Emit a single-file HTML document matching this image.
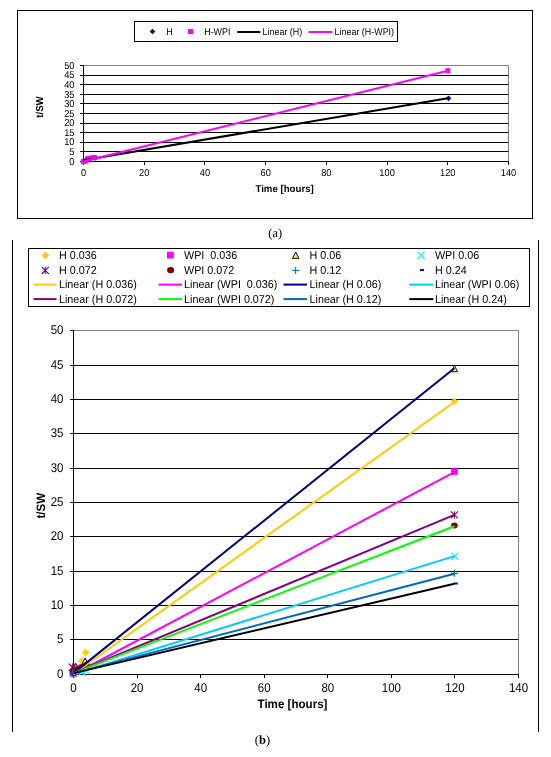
<!DOCTYPE html>
<html><head><meta charset="utf-8"><title>Charts</title>
<style>
html,body{margin:0;padding:0;background:#fff;}
body{width:551px;height:757px;overflow:hidden;font-family:"Liberation Sans",sans-serif;}
svg{display:block;will-change:transform;}
text{text-rendering:geometricPrecision;}
</style></head><body>
<svg width="551" height="757" viewBox="0 0 551 757">
<rect width="551" height="757" fill="#fff"/>
<rect x="17.5" y="10.5" width="515" height="208" fill="#fff" stroke="#000" stroke-width="1"/>
<path d="M83.5 65.5H508.5V161.5" fill="none" stroke="#808080" stroke-width="1"/>
<line x1="83.5" x2="508.5" y1="151.5" y2="151.5" stroke="#000" stroke-width="1"/>
<line x1="83.5" x2="508.5" y1="142.5" y2="142.5" stroke="#000" stroke-width="1"/>
<line x1="83.5" x2="508.5" y1="132.5" y2="132.5" stroke="#000" stroke-width="1"/>
<line x1="83.5" x2="508.5" y1="123.5" y2="123.5" stroke="#000" stroke-width="1"/>
<line x1="83.5" x2="508.5" y1="113.5" y2="113.5" stroke="#000" stroke-width="1"/>
<line x1="83.5" x2="508.5" y1="103.5" y2="103.5" stroke="#000" stroke-width="1"/>
<line x1="83.5" x2="508.5" y1="94.5" y2="94.5" stroke="#000" stroke-width="1"/>
<line x1="83.5" x2="508.5" y1="84.5" y2="84.5" stroke="#000" stroke-width="1"/>
<line x1="83.5" x2="508.5" y1="75.5" y2="75.5" stroke="#000" stroke-width="1"/>
<line x1="83.5" x2="83.5" y1="65.5" y2="161.5" stroke="#000" stroke-width="1"/>
<line x1="83.5" x2="508.5" y1="161.5" y2="161.5" stroke="#000" stroke-width="1"/>
<line x1="80.0" x2="83.5" y1="161.5" y2="161.5" stroke="#000" stroke-width="1"/>
<text transform="translate(74.50,164.90) scale(0.93,1)" font-size="10" text-anchor="end" font-family="Liberation Sans, sans-serif">0</text>
<line x1="80.0" x2="83.5" y1="151.5" y2="151.5" stroke="#000" stroke-width="1"/>
<text transform="translate(74.50,154.90) scale(0.93,1)" font-size="10" text-anchor="end" font-family="Liberation Sans, sans-serif">5</text>
<line x1="80.0" x2="83.5" y1="142.5" y2="142.5" stroke="#000" stroke-width="1"/>
<text transform="translate(74.50,144.90) scale(0.93,1)" font-size="10" text-anchor="end" font-family="Liberation Sans, sans-serif">10</text>
<line x1="80.0" x2="83.5" y1="132.5" y2="132.5" stroke="#000" stroke-width="1"/>
<text transform="translate(74.50,135.90) scale(0.93,1)" font-size="10" text-anchor="end" font-family="Liberation Sans, sans-serif">15</text>
<line x1="80.0" x2="83.5" y1="123.5" y2="123.5" stroke="#000" stroke-width="1"/>
<text transform="translate(74.50,125.90) scale(0.93,1)" font-size="10" text-anchor="end" font-family="Liberation Sans, sans-serif">20</text>
<line x1="80.0" x2="83.5" y1="113.5" y2="113.5" stroke="#000" stroke-width="1"/>
<text transform="translate(74.50,116.90) scale(0.93,1)" font-size="10" text-anchor="end" font-family="Liberation Sans, sans-serif">25</text>
<line x1="80.0" x2="83.5" y1="103.5" y2="103.5" stroke="#000" stroke-width="1"/>
<text transform="translate(74.50,106.90) scale(0.93,1)" font-size="10" text-anchor="end" font-family="Liberation Sans, sans-serif">30</text>
<line x1="80.0" x2="83.5" y1="94.5" y2="94.5" stroke="#000" stroke-width="1"/>
<text transform="translate(74.50,97.90) scale(0.93,1)" font-size="10" text-anchor="end" font-family="Liberation Sans, sans-serif">35</text>
<line x1="80.0" x2="83.5" y1="84.5" y2="84.5" stroke="#000" stroke-width="1"/>
<text transform="translate(74.50,87.90) scale(0.93,1)" font-size="10" text-anchor="end" font-family="Liberation Sans, sans-serif">40</text>
<line x1="80.0" x2="83.5" y1="75.5" y2="75.5" stroke="#000" stroke-width="1"/>
<text transform="translate(74.50,77.90) scale(0.93,1)" font-size="10" text-anchor="end" font-family="Liberation Sans, sans-serif">45</text>
<line x1="80.0" x2="83.5" y1="65.5" y2="65.5" stroke="#000" stroke-width="1"/>
<text transform="translate(74.50,68.90) scale(0.93,1)" font-size="10" text-anchor="end" font-family="Liberation Sans, sans-serif">50</text>
<line x1="83.5" x2="83.5" y1="161.5" y2="165.0" stroke="#000" stroke-width="1"/>
<text transform="translate(83.50,175.50) scale(0.93,1)" font-size="10" text-anchor="middle" font-family="Liberation Sans, sans-serif">0</text>
<line x1="144.5" x2="144.5" y1="161.5" y2="165.0" stroke="#000" stroke-width="1"/>
<text transform="translate(144.21,175.50) scale(0.93,1)" font-size="10" text-anchor="middle" font-family="Liberation Sans, sans-serif">20</text>
<line x1="204.5" x2="204.5" y1="161.5" y2="165.0" stroke="#000" stroke-width="1"/>
<text transform="translate(204.93,175.50) scale(0.93,1)" font-size="10" text-anchor="middle" font-family="Liberation Sans, sans-serif">40</text>
<line x1="265.5" x2="265.5" y1="161.5" y2="165.0" stroke="#000" stroke-width="1"/>
<text transform="translate(265.64,175.50) scale(0.93,1)" font-size="10" text-anchor="middle" font-family="Liberation Sans, sans-serif">60</text>
<line x1="326.5" x2="326.5" y1="161.5" y2="165.0" stroke="#000" stroke-width="1"/>
<text transform="translate(326.36,175.50) scale(0.93,1)" font-size="10" text-anchor="middle" font-family="Liberation Sans, sans-serif">80</text>
<line x1="387.5" x2="387.5" y1="161.5" y2="165.0" stroke="#000" stroke-width="1"/>
<text transform="translate(387.07,175.50) scale(0.93,1)" font-size="10" text-anchor="middle" font-family="Liberation Sans, sans-serif">100</text>
<line x1="447.5" x2="447.5" y1="161.5" y2="165.0" stroke="#000" stroke-width="1"/>
<text transform="translate(447.79,175.50) scale(0.93,1)" font-size="10" text-anchor="middle" font-family="Liberation Sans, sans-serif">120</text>
<line x1="508.5" x2="508.5" y1="161.5" y2="165.0" stroke="#000" stroke-width="1"/>
<text transform="translate(508.50,175.50) scale(0.93,1)" font-size="10" text-anchor="middle" font-family="Liberation Sans, sans-serif">140</text>
<text transform="translate(284.60,191.80) scale(0.965,1)" font-size="10" text-anchor="middle" font-weight="bold" font-family="Liberation Sans, sans-serif">Time [hours]</text>
<text transform="translate(42.80,107.00) rotate(-90) scale(0.965,1)" font-size="10" text-anchor="middle" font-weight="bold" font-family="Liberation Sans, sans-serif">t/SW</text>
<path d="M83.50 158.12L86.30 160.92L83.50 163.72L80.70 160.92Z" fill="#000080" />
<path d="M86.54 156.78L89.34 159.58L86.54 162.38L83.74 159.58Z" fill="#000080" />
<path d="M89.57 156.20L92.37 159.00L89.57 161.80L86.77 159.00Z" fill="#000080" />
<path d="M95.64 155.05L98.44 157.85L95.64 160.65L92.84 157.85Z" fill="#000080" />
<rect x="81.00" y="159.00" width="5.0" height="5.0" fill="#ff00ff"/>
<rect x="83.12" y="158.62" width="5.0" height="5.0" fill="#ff00ff"/>
<rect x="85.55" y="155.93" width="5.0" height="5.0" fill="#ff00ff"/>
<rect x="88.59" y="155.45" width="5.0" height="5.0" fill="#ff00ff"/>
<rect x="91.62" y="154.87" width="5.0" height="5.0" fill="#ff00ff"/>
<line x1="83.50" y1="160.16" x2="447.79" y2="98.33" stroke="#000" stroke-width="2"/>
<line x1="83.50" y1="161.50" x2="447.79" y2="70.68" stroke="#ff00ff" stroke-width="2"/>
<path d="M448.54 95.53L451.34 98.33L448.54 101.13L445.74 98.33Z" fill="#000080" />
<rect x="445.29" y="68.18" width="5.0" height="5.0" fill="#ff00ff"/>
<rect x="134.5" y="21.5" width="263" height="20" fill="#fff" stroke="#000" stroke-width="1"/>
<path d="M152.50 28.70L155.30 31.50L152.50 34.30L149.70 31.50Z" fill="#000080" />
<text transform="translate(166.30,35.00) scale(0.92,1)" font-size="9.7" text-anchor="start" font-family="Liberation Sans, sans-serif">H</text>
<rect x="188.00" y="29.00" width="5.0" height="5.0" fill="#ff00ff"/>
<text transform="translate(204.20,35.00) scale(0.92,1)" font-size="9.7" text-anchor="start" font-family="Liberation Sans, sans-serif">H-WPI</text>
<line x1="237.3" x2="260.3" y1="32" y2="32" stroke="#000" stroke-width="2"/>
<text transform="translate(262.60,35.00) scale(0.92,1)" font-size="9.7" text-anchor="start" font-family="Liberation Sans, sans-serif">Linear (H)</text>
<line x1="308.7" x2="332.3" y1="32" y2="32" stroke="#ff00ff" stroke-width="2"/>
<text transform="translate(334.60,35.00) scale(0.92,1)" font-size="9.7" text-anchor="start" font-family="Liberation Sans, sans-serif">Linear (H-WPI)</text>
<text x="275.2" y="237" font-size="12.3" text-anchor="middle" font-family="Liberation Serif, serif">(a)</text>
<line x1="12.5" x2="12.5" y1="240" y2="732" stroke="#000" stroke-width="1"/>
<line x1="538.5" x2="538.5" y1="240" y2="732" stroke="#000" stroke-width="1"/>
<path d="M73.5 330.5H518.5V674.5" fill="none" stroke="#808080" stroke-width="1"/>
<line x1="73.5" x2="518.5" y1="639.5" y2="639.5" stroke="#000" stroke-width="1"/>
<line x1="73.5" x2="518.5" y1="605.5" y2="605.5" stroke="#000" stroke-width="1"/>
<line x1="73.5" x2="518.5" y1="571.5" y2="571.5" stroke="#000" stroke-width="1"/>
<line x1="73.5" x2="518.5" y1="536.5" y2="536.5" stroke="#000" stroke-width="1"/>
<line x1="73.5" x2="518.5" y1="502.5" y2="502.5" stroke="#000" stroke-width="1"/>
<line x1="73.5" x2="518.5" y1="468.5" y2="468.5" stroke="#000" stroke-width="1"/>
<line x1="73.5" x2="518.5" y1="433.5" y2="433.5" stroke="#000" stroke-width="1"/>
<line x1="73.5" x2="518.5" y1="399.5" y2="399.5" stroke="#000" stroke-width="1"/>
<line x1="73.5" x2="518.5" y1="365.5" y2="365.5" stroke="#000" stroke-width="1"/>
<line x1="73.5" x2="73.5" y1="330.5" y2="674.5" stroke="#000" stroke-width="1"/>
<line x1="73.5" x2="518.5" y1="674.5" y2="674.5" stroke="#000" stroke-width="1"/>
<line x1="70.0" x2="73.5" y1="674.5" y2="674.5" stroke="#000" stroke-width="1"/>
<text transform="translate(63.50,678.10) scale(0.905,1)" font-size="12.7" text-anchor="end" font-family="Liberation Sans, sans-serif">0</text>
<line x1="70.0" x2="73.5" y1="639.5" y2="639.5" stroke="#000" stroke-width="1"/>
<text transform="translate(63.50,643.10) scale(0.905,1)" font-size="12.7" text-anchor="end" font-family="Liberation Sans, sans-serif">5</text>
<line x1="70.0" x2="73.5" y1="605.5" y2="605.5" stroke="#000" stroke-width="1"/>
<text transform="translate(63.50,609.10) scale(0.905,1)" font-size="12.7" text-anchor="end" font-family="Liberation Sans, sans-serif">10</text>
<line x1="70.0" x2="73.5" y1="571.5" y2="571.5" stroke="#000" stroke-width="1"/>
<text transform="translate(63.50,575.10) scale(0.905,1)" font-size="12.7" text-anchor="end" font-family="Liberation Sans, sans-serif">15</text>
<line x1="70.0" x2="73.5" y1="536.5" y2="536.5" stroke="#000" stroke-width="1"/>
<text transform="translate(63.50,540.10) scale(0.905,1)" font-size="12.7" text-anchor="end" font-family="Liberation Sans, sans-serif">20</text>
<line x1="70.0" x2="73.5" y1="502.5" y2="502.5" stroke="#000" stroke-width="1"/>
<text transform="translate(63.50,506.10) scale(0.905,1)" font-size="12.7" text-anchor="end" font-family="Liberation Sans, sans-serif">25</text>
<line x1="70.0" x2="73.5" y1="468.5" y2="468.5" stroke="#000" stroke-width="1"/>
<text transform="translate(63.50,472.10) scale(0.905,1)" font-size="12.7" text-anchor="end" font-family="Liberation Sans, sans-serif">30</text>
<line x1="70.0" x2="73.5" y1="433.5" y2="433.5" stroke="#000" stroke-width="1"/>
<text transform="translate(63.50,437.10) scale(0.905,1)" font-size="12.7" text-anchor="end" font-family="Liberation Sans, sans-serif">35</text>
<line x1="70.0" x2="73.5" y1="399.5" y2="399.5" stroke="#000" stroke-width="1"/>
<text transform="translate(63.50,403.10) scale(0.905,1)" font-size="12.7" text-anchor="end" font-family="Liberation Sans, sans-serif">40</text>
<line x1="70.0" x2="73.5" y1="365.5" y2="365.5" stroke="#000" stroke-width="1"/>
<text transform="translate(63.50,369.10) scale(0.905,1)" font-size="12.7" text-anchor="end" font-family="Liberation Sans, sans-serif">45</text>
<line x1="70.0" x2="73.5" y1="330.5" y2="330.5" stroke="#000" stroke-width="1"/>
<text transform="translate(63.50,334.10) scale(0.905,1)" font-size="12.7" text-anchor="end" font-family="Liberation Sans, sans-serif">50</text>
<line x1="73.5" x2="73.5" y1="674.5" y2="678.0" stroke="#000" stroke-width="1"/>
<text transform="translate(73.50,691.60) scale(0.905,1)" font-size="12.7" text-anchor="middle" font-family="Liberation Sans, sans-serif">0</text>
<line x1="137.5" x2="137.5" y1="674.5" y2="678.0" stroke="#000" stroke-width="1"/>
<text transform="translate(137.07,691.60) scale(0.905,1)" font-size="12.7" text-anchor="middle" font-family="Liberation Sans, sans-serif">20</text>
<line x1="200.5" x2="200.5" y1="674.5" y2="678.0" stroke="#000" stroke-width="1"/>
<text transform="translate(200.64,691.60) scale(0.905,1)" font-size="12.7" text-anchor="middle" font-family="Liberation Sans, sans-serif">40</text>
<line x1="264.5" x2="264.5" y1="674.5" y2="678.0" stroke="#000" stroke-width="1"/>
<text transform="translate(264.21,691.60) scale(0.905,1)" font-size="12.7" text-anchor="middle" font-family="Liberation Sans, sans-serif">60</text>
<line x1="327.5" x2="327.5" y1="674.5" y2="678.0" stroke="#000" stroke-width="1"/>
<text transform="translate(327.79,691.60) scale(0.905,1)" font-size="12.7" text-anchor="middle" font-family="Liberation Sans, sans-serif">80</text>
<line x1="391.5" x2="391.5" y1="674.5" y2="678.0" stroke="#000" stroke-width="1"/>
<text transform="translate(391.36,691.60) scale(0.905,1)" font-size="12.7" text-anchor="middle" font-family="Liberation Sans, sans-serif">100</text>
<line x1="454.5" x2="454.5" y1="674.5" y2="678.0" stroke="#000" stroke-width="1"/>
<text transform="translate(454.93,691.60) scale(0.905,1)" font-size="12.7" text-anchor="middle" font-family="Liberation Sans, sans-serif">120</text>
<line x1="518.5" x2="518.5" y1="674.5" y2="678.0" stroke="#000" stroke-width="1"/>
<text transform="translate(518.50,691.60) scale(0.905,1)" font-size="12.7" text-anchor="middle" font-family="Liberation Sans, sans-serif">140</text>
<text transform="translate(292.50,708.00) scale(0.95,1)" font-size="12.2" text-anchor="middle" font-weight="bold" font-family="Liberation Sans, sans-serif">Time [hours]</text>
<text transform="translate(45.30,505.70) rotate(-90) scale(0.95,1)" font-size="12.2" text-anchor="middle" font-weight="bold" font-family="Liberation Sans, sans-serif">t/SW</text>
<path d="M73.50 668.80L77.20 672.50L73.50 676.20L69.80 672.50Z" fill="#ffcc00" />
<path d="M76.70 664.80L80.40 668.50L76.70 672.20L73.00 668.50Z" fill="#ffcc00" />
<path d="M81.80 657.30L85.50 661.00L81.80 664.70L78.10 661.00Z" fill="#ffcc00" />
<path d="M85.60 648.80L89.30 652.50L85.60 656.20L81.90 652.50Z" fill="#ffcc00" />
<path d="M454.40 397.66L458.10 401.36L454.40 405.06L450.70 401.36Z" fill="#ffcc00" />
<rect x="69.70" y="670.20" width="6.6" height="6.6" fill="#ff00ff"/>
<rect x="73.20" y="668.20" width="6.6" height="6.6" fill="#ff00ff"/>
<rect x="76.70" y="666.70" width="6.6" height="6.6" fill="#ff00ff"/>
<rect x="451.10" y="468.24" width="6.6" height="6.6" fill="#ff00ff"/>
<path d="M73.50 667.90L76.60 674.10L70.40 674.10Z" fill="#ffff00" stroke="#000080" stroke-width="1"/>
<path d="M75.60 663.10L78.70 669.30L72.50 669.30Z" fill="#ffff00" stroke="#000080" stroke-width="1"/>
<path d="M85.10 657.90L88.20 664.10L82.00 664.10Z" fill="#ffff00" stroke="#000080" stroke-width="1"/>
<path d="M454.40 365.54L457.50 371.74L451.30 371.74Z" fill="#ffff00" stroke="#000080" stroke-width="1"/>
<path d="M78.60 668.40L85.80 675.60M78.60 675.60L85.80 668.40" stroke="#00ffff" stroke-width="1.2" fill="none"/>
<path d="M82.60 667.10L89.80 674.30M82.60 674.30L89.80 667.10" stroke="#00ffff" stroke-width="1.2" fill="none"/>
<path d="M451.10 552.56L458.30 559.76M451.10 559.76L458.30 552.56" stroke="#00ffff" stroke-width="1.2" fill="none"/>
<path d="M68.70 663.60L75.90 670.80M68.70 670.80L75.90 663.60M72.30 663.60V670.80" stroke="#800080" stroke-width="1.1" fill="none"/>
<path d="M71.40 665.90L78.60 673.10M71.40 673.10L78.60 665.90M75.00 665.90V673.10" stroke="#800080" stroke-width="1.1" fill="none"/>
<path d="M75.40 664.40L82.60 671.60M75.40 671.60L82.60 664.40M79.00 664.40V671.60" stroke="#800080" stroke-width="1.1" fill="none"/>
<path d="M450.80 511.28L458.00 518.48M450.80 518.48L458.00 511.28M454.40 511.28V518.48" stroke="#800080" stroke-width="1.1" fill="none"/>
<ellipse cx="73.00" cy="671.50" rx="3.3" ry="3.0" fill="#800000"/>
<ellipse cx="77.00" cy="669.50" rx="3.3" ry="3.0" fill="#800000"/>
<ellipse cx="82.00" cy="667.00" rx="3.3" ry="3.0" fill="#800000"/>
<ellipse cx="87.00" cy="664.80" rx="3.3" ry="3.0" fill="#800000"/>
<ellipse cx="454.40" cy="525.55" rx="3.3" ry="3.0" fill="#800000"/>
<path d="M69.00 673.00H76.00M72.50 669.50V676.50" stroke="#008080" stroke-width="1.1" fill="none"/>
<path d="M72.50 673.50H79.50M76.00 670.00V677.00" stroke="#008080" stroke-width="1.1" fill="none"/>
<path d="M450.90 573.36H457.90M454.40 569.86V576.86" stroke="#008080" stroke-width="1.1" fill="none"/>
<rect x="72.10" y="673.50" width="3.8" height="2" fill="#0000ff"/>
<rect x="454.00" y="582.48" width="3.8" height="2" fill="#0000ff"/>
<line x1="73.50" y1="673.95" x2="454.40" y2="402.05" stroke="#ffcc00" stroke-width="2"/>
<line x1="73.50" y1="674.50" x2="454.40" y2="472.02" stroke="#ff00ff" stroke-width="2"/>
<line x1="73.50" y1="673.12" x2="454.40" y2="368.34" stroke="#000080" stroke-width="2"/>
<line x1="73.50" y1="674.16" x2="454.40" y2="556.16" stroke="#00ccff" stroke-width="2"/>
<line x1="73.50" y1="673.12" x2="454.40" y2="514.88" stroke="#800080" stroke-width="2"/>
<line x1="73.50" y1="673.12" x2="454.40" y2="526.24" stroke="#00ff00" stroke-width="2"/>
<line x1="73.50" y1="673.12" x2="454.40" y2="573.71" stroke="#0066cc" stroke-width="2"/>
<line x1="73.50" y1="673.12" x2="454.40" y2="583.68" stroke="#000000" stroke-width="2"/>
<rect x="28.5" y="248.5" width="501" height="58" fill="#fff" stroke="#000" stroke-width="1"/>
<text transform="translate(58.90,258.80) scale(0.946,1)" font-size="11.4" text-anchor="start" font-family="Liberation Sans, sans-serif">H 0.036</text>
<text transform="translate(184.00,258.80) scale(0.946,1)" font-size="11.4" text-anchor="start" font-family="Liberation Sans, sans-serif">WPI &#160;0.036</text>
<text transform="translate(309.50,258.80) scale(0.946,1)" font-size="11.4" text-anchor="start" font-family="Liberation Sans, sans-serif">H 0.06</text>
<text transform="translate(434.90,258.80) scale(0.946,1)" font-size="11.4" text-anchor="start" font-family="Liberation Sans, sans-serif">WPI 0.06</text>
<text transform="translate(58.90,273.80) scale(0.946,1)" font-size="11.4" text-anchor="start" font-family="Liberation Sans, sans-serif">H 0.072</text>
<text transform="translate(184.00,273.80) scale(0.946,1)" font-size="11.4" text-anchor="start" font-family="Liberation Sans, sans-serif">WPI 0.072</text>
<text transform="translate(309.50,273.80) scale(0.946,1)" font-size="11.4" text-anchor="start" font-family="Liberation Sans, sans-serif">H 0.12</text>
<text transform="translate(434.90,273.80) scale(0.946,1)" font-size="11.4" text-anchor="start" font-family="Liberation Sans, sans-serif">H 0.24</text>
<text transform="translate(58.90,288.30) scale(0.946,1)" font-size="11.4" text-anchor="start" font-family="Liberation Sans, sans-serif">Linear (H 0.036)</text>
<line x1="33.5" x2="56.5" y1="284.60" y2="284.60" stroke="#ffcc00" stroke-width="2"/>
<text transform="translate(184.00,288.30) scale(0.946,1)" font-size="11.4" text-anchor="start" font-family="Liberation Sans, sans-serif">Linear (WPI &#160;0.036)</text>
<line x1="158.5" x2="182" y1="284.60" y2="284.60" stroke="#ff00ff" stroke-width="2"/>
<text transform="translate(309.50,288.30) scale(0.946,1)" font-size="11.4" text-anchor="start" font-family="Liberation Sans, sans-serif">Linear (H 0.06)</text>
<line x1="283.5" x2="307" y1="284.60" y2="284.60" stroke="#000080" stroke-width="2"/>
<text transform="translate(434.90,288.30) scale(0.946,1)" font-size="11.4" text-anchor="start" font-family="Liberation Sans, sans-serif">Linear (WPI 0.06)</text>
<line x1="409.3" x2="433.3" y1="284.60" y2="284.60" stroke="#00ccff" stroke-width="2"/>
<text transform="translate(58.90,302.80) scale(0.946,1)" font-size="11.4" text-anchor="start" font-family="Liberation Sans, sans-serif">Linear (H 0.072)</text>
<line x1="33.5" x2="56.5" y1="299.10" y2="299.10" stroke="#800080" stroke-width="2"/>
<text transform="translate(184.00,302.80) scale(0.946,1)" font-size="11.4" text-anchor="start" font-family="Liberation Sans, sans-serif">Linear (WPI 0.072)</text>
<line x1="158.5" x2="182" y1="299.10" y2="299.10" stroke="#00ff00" stroke-width="2"/>
<text transform="translate(309.50,302.80) scale(0.946,1)" font-size="11.4" text-anchor="start" font-family="Liberation Sans, sans-serif">Linear (H 0.12)</text>
<line x1="283.5" x2="307" y1="299.10" y2="299.10" stroke="#0066cc" stroke-width="2"/>
<text transform="translate(434.90,302.80) scale(0.946,1)" font-size="11.4" text-anchor="start" font-family="Liberation Sans, sans-serif">Linear (H 0.24)</text>
<line x1="409.3" x2="433.3" y1="299.10" y2="299.10" stroke="#000000" stroke-width="2"/>
<path d="M45.40 251.60L49.20 255.40L45.40 259.20L41.60 255.40Z" fill="#ffcc00" />
<rect x="167.00" y="251.70" width="6.8" height="6.8" fill="#ff00ff"/>
<path d="M295.70 252.00L298.90 258.40L292.50 258.40Z" fill="#ffff00" stroke="#000080" stroke-width="1"/>
<path d="M417.40 251.60L424.60 258.80M417.40 258.80L424.60 251.60" stroke="#00ffff" stroke-width="1.2" fill="none"/>
<path d="M41.65 266.80L48.85 274.00M41.65 274.00L48.85 266.80M45.25 266.80V274.00" stroke="#800080" stroke-width="1.1" fill="none"/>
<ellipse cx="170.60" cy="270.10" rx="3.5" ry="3.2" fill="#800000"/>
<path d="M292.10 270.50H299.10M295.60 267.00V274.00" stroke="#008080" stroke-width="1.1" fill="none"/>
<rect x="420.00" y="269.00" width="4" height="2" fill="#0000ff"/>
<text x="262.4" y="743.8" font-size="12.5" text-anchor="middle" font-family="Liberation Serif, serif">(<tspan font-weight="bold">b</tspan>)</text>
</svg>
</body></html>
